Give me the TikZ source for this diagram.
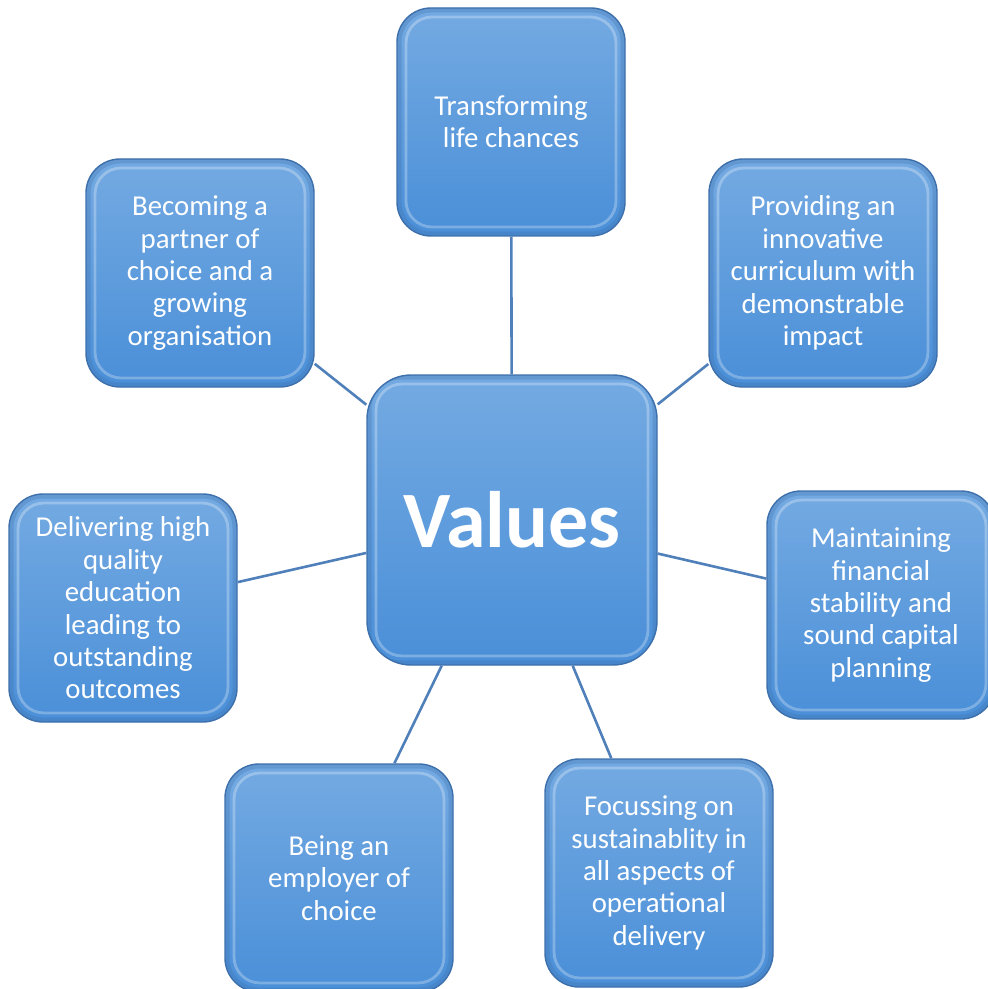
\documentclass[tikz,border=0pt]{standalone}
\usepackage{fontspec}
\setmainfont{Carlito}
\definecolor{boxtop}{RGB}{116,170,226}
\definecolor{boxbot}{RGB}{74,143,216}
\definecolor{boxedge}{RGB}{62,112,172}
\definecolor{linkblue}{RGB}{80,128,186}

\tikzset{
	valbox/.style = {rectangle, rounded corners = 17pt, draw = boxedge, line width = 0.7pt,
		top color = boxtop, bottom color = boxbot, text = white, align = center,
		minimum width = 114pt, minimum height = 114pt, inner sep = 0pt,
		font = \fontsize{14.4}{16.2}\selectfont,
		path picture = {
			\draw [white, opacity = 0.28, line width = 1.4pt, rounded corners = 13pt]
			([shift = {(4.5pt,-4.5pt)}]path picture bounding box.north west) rectangle
			([shift = {(-4.5pt,4.5pt)}]path picture bounding box.south east);
			\draw [boxedge, opacity = 0.3, line width = 2.5pt, rounded corners = 16pt]
			([shift = {(1pt,-1pt)}]path picture bounding box.north west) rectangle
			([shift = {(-1pt,1pt)}]path picture bounding box.south east);
		}},
	link/.style = {draw = linkblue, line width = 1.3pt}
}

\begin{document}
\begin{tikzpicture}[x = 0.5pt, y = -0.5pt]
	\useasboundingbox (0,0) rectangle (988,989);
	\node [valbox, minimum width = 145pt, minimum height = 145pt, rounded corners = 22pt,
		font = \fontsize{40}{48}\selectfont\bfseries] (values) at (512,520) {Values};
	\node [valbox] (life) at (511,122) {Transforming\\life chances};
	\node [valbox] (curriculum) at (823,273) {Providing an\\innovative\\curriculum with\\demonstrable\\impact};
	\node [valbox] (finance) at (881,605) {Maintaining\\financial\\stability and\\sound capital\\planning};
	\node [valbox] (sustain) at (659,873) {Focussing on\\sustainablity in\\all aspects of\\operational\\delivery};
	\node [valbox] (employer) at (339,878) {Being an\\employer of\\choice};
	\node [valbox] (quality) at (123,608) {Delivering high\\quality\\education\\leading to\\outstanding\\outcomes};
	\node [valbox] (partner) at (200,273) {Becoming a\\partner of\\choice and a\\growing\\organisation};
	\foreach \n in {life,curriculum,finance,sustain,employer,quality,partner}
	\draw [link] (values) -- (\n);
\end{tikzpicture}
\end{document}
